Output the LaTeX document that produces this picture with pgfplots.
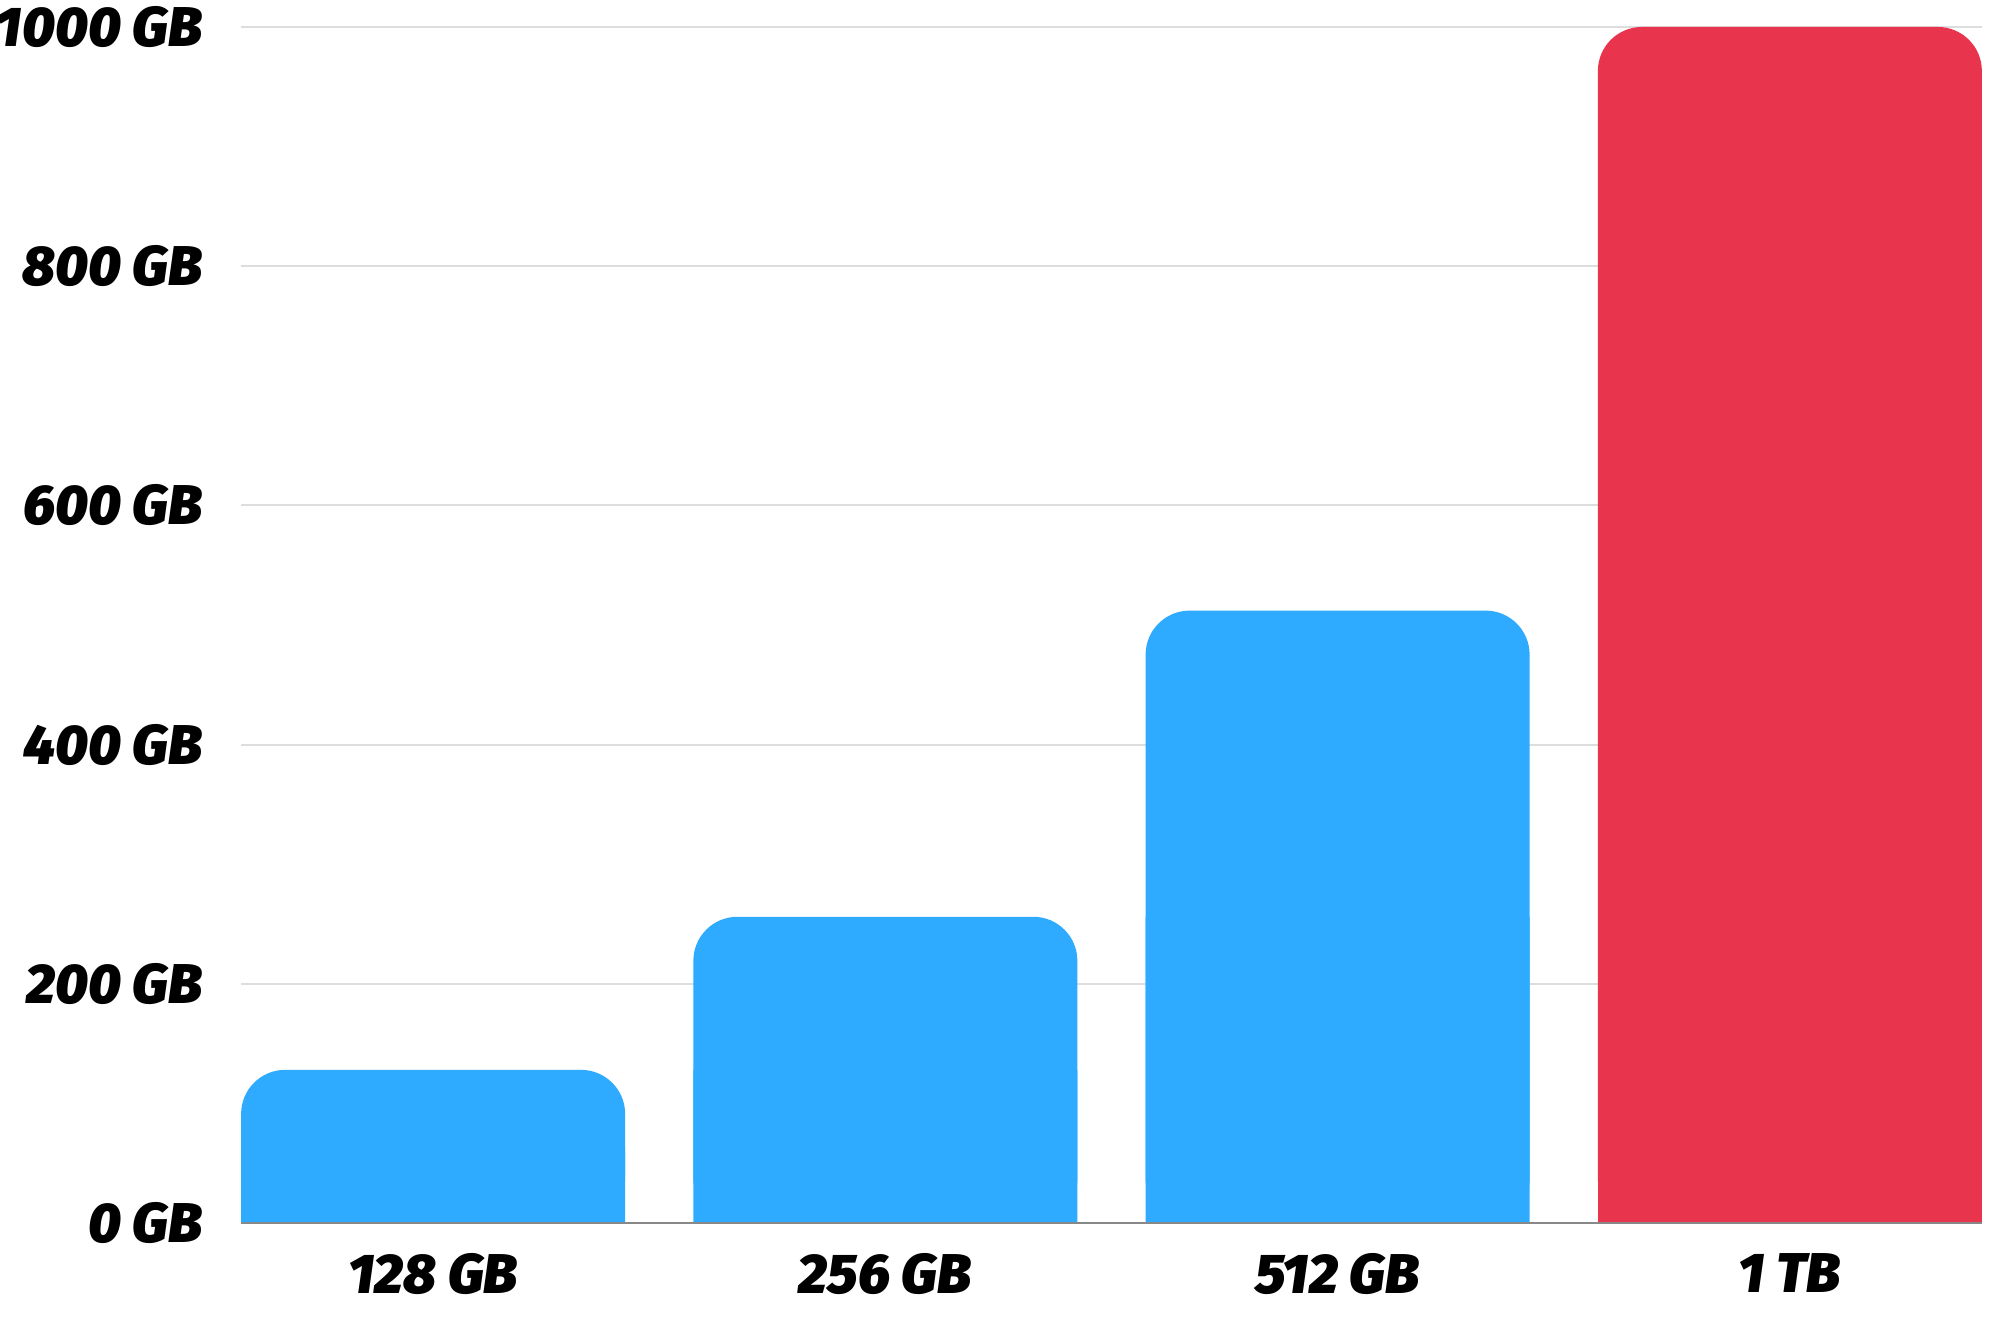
\documentclass[border=0pt]{standalone}
\usepackage{fontspec}
\setmainfont{Fira Sans}
\newfontfamily\labfont{Fira Sans}[UprightFont={* Black Italic}]
\usepackage{pgfplots}
\usepackage{pgfplotstable}
\pgfplotsset{compat=1.18}
\definecolor{barblue}{HTML}{2EABFE}
\definecolor{barred}{HTML}{E8354D}
\definecolor{gridgray}{HTML}{DDDDDD}
\definecolor{basegray}{HTML}{888888}
\pgfplotstableread{
x v
0 128
1 256
2 512
}\bluedata
\pgfplotstableread{
x v
3 1000
}\reddata
\begin{document}
\begin{tikzpicture}
\begin{axis}[
  name=ax,
  width=435.25pt, height=299pt,
  scale only axis,
  xmin=-0.4248, xmax=3.4248,
  ymin=0, ymax=1000,
  ytick={0,200,400,600,800,1000},
  yticklabels={0 GB,200 GB,400 GB,600 GB,800 GB,1000 GB},
  xtick={0,1,2,3},
  xticklabels={128 GB,256 GB,512 GB,1 TB},
  tick label style={font=\labfont\fontsize{14}{16}\selectfont},
  yticklabel style={anchor=east, xshift=-6pt},
  xticklabel style={anchor=north, yshift=-4pt},
  major tick length=0pt,
  axis line style={draw=none},
  ymajorgrids,
  grid style={gridgray, line width=0.5pt},
  axis on top=false,
  clip=false,
  bar width=96pt,
]
\addplot[ybar, bar shift=0pt, fill=barblue, draw=none, rounded corners=11pt] table[x=x,y=v] {\bluedata};
\addplot[ybar, bar shift=0pt, fill=barblue, draw=none] table[x=x,y expr=\thisrow{v}*0.5] {\bluedata};
\addplot[ybar, bar shift=0pt, fill=barred, draw=none, rounded corners=11pt] table[x=x,y=v] {\reddata};
\addplot[ybar, bar shift=0pt, fill=barred, draw=none] table[x=x,y expr=\thisrow{v}*0.5] {\reddata};
\draw[basegray, line width=0.5pt] (axis cs:-0.4248,0) -- (axis cs:3.4248,0);
\end{axis}
\pgfresetboundingbox
\path[use as bounding box] ([shift={(-60.25pt,-27.25pt)}]ax.south west) rectangle ([shift={(4.5pt,6.75pt)}]ax.north east);
\end{tikzpicture}
\end{document}
